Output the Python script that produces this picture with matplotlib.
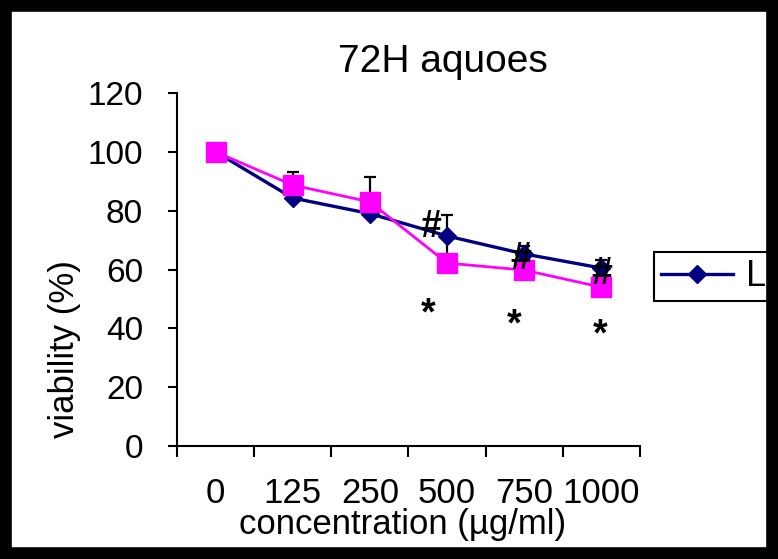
import numpy as np
import matplotlib.pyplot as plt
from matplotlib.patches import Rectangle

plt.rcParams['font.family'] = ['Liberation Sans', 'DejaVu Sans']

# Data
concentrations = ["0", "125", "250", "500", "750", "1000"]
viability_blue = [100, 84.3, 79.0, 71.4, 65.3, 60.5]
err_blue_up = [0, 3.0, 3.0, 7.0, 2.7, 2.7]
err_blue_down = [0, 0, 0, 7.0, 0, 0]
viability_magenta = [100, 88.7, 83.0, 62.2, 59.8, 54.0]
err_magenta = [0, 4.3, 8.5, 0, 0, 0]

fig = plt.figure(figsize=(7.78, 5.59), dpi=100)
ax = fig.add_axes([0.2275, 0.2021, 0.5951, 0.6315])

x = np.arange(len(concentrations)) + 0.5

# blue series (error bars behind markers)
ax.errorbar(x, viability_blue, yerr=[err_blue_down, err_blue_up], fmt="none",
            ecolor="black", elinewidth=1.6, capsize=4.3, capthick=1.6, zorder=1.5)
ax.plot(x, viability_blue, color="#000080", lw=2.4, marker="D", ms=9,
        mfc="#000080", mec="#000080", label="L", zorder=2)

# magenta series, upper error bars only
ax.errorbar(x, viability_magenta, yerr=[np.zeros(len(x)), err_magenta], fmt="none",
            ecolor="black", elinewidth=1.6, capsize=4.3, capthick=1.6, zorder=2.5)
ax.plot(x, viability_magenta, color="#FF00FF", lw=2, marker="s", ms=14,
        mfc="#FF00FF", mec="#FF00FF", zorder=3)

# significance marks
for xi, yi in [(3.29, 71.1), (4.46, 60.2), (5.51, 55.1)]:
    ax.text(xi, yi, "#", ha="center", va="baseline", fontsize=27,
            fontweight="bold", zorder=5)
for xi, yi in [(3.25, 41.2), (4.37, 37.7), (5.48, 34.3)]:
    ax.text(xi, yi, "*", ha="center", va="baseline", fontsize=27,
            fontweight="bold", zorder=5)

# axes styling
ax.set_xlim(0, 6)
ax.set_ylim(0, 120)
ax.set_yticks(range(0, 121, 20))
ax.set_xticks(range(0, 7))
ax.set_xticklabels([])
ax.set_xticks(x, minor=True)
ax.set_xticklabels(concentrations, minor=True)
ax.tick_params(axis="x", which="major", direction="out", length=8, width=1.5)
ax.tick_params(axis="x", which="minor", length=0, pad=22, labelsize=25)
ax.tick_params(axis="y", direction="out", length=6.5, width=1.5, pad=18, labelsize=24)
ax.spines["top"].set_visible(False)
ax.spines["right"].set_visible(False)
ax.spines["left"].set_linewidth(1.5)
ax.spines["bottom"].set_linewidth(1.5)

ax.set_xlabel("concentration (µg/ml)", fontsize=25, va="center")
ax.xaxis.set_label_coords(0.488, -0.221)
ax.set_ylabel("viability (%)", fontsize=25, va="center")
ax.yaxis.set_label_coords(-0.242, 0.275)

fig.text(0.569, 0.8717, "72H aquoes", ha="center", va="baseline", fontsize=28)

leg = ax.legend(loc="upper left", bbox_to_anchor=(0.8406, 0.5492),
                bbox_transform=fig.transFigure, fontsize=26, fancybox=False,
                borderaxespad=0, borderpad=0.2, handlelength=2.0,
                handletextpad=0.35, framealpha=1)
leg.get_frame().set_edgecolor("black")
leg.get_frame().set_linewidth(1.5)

# thick black frame round the picture
fig.add_artist(Rectangle((0, 0), 1, 1, transform=fig.transFigure, fill=False,
                         edgecolor="black", linewidth=17, zorder=10))

plt.savefig("out.png", dpi=100)
plt.close()
